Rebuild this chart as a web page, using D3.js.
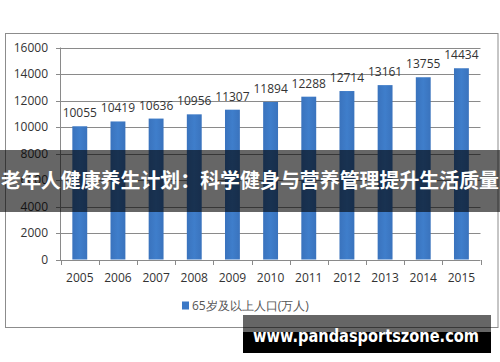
<!DOCTYPE html>
<html>
<head>
<meta charset="utf-8">
<script src="https://d3js.org/d3.v7.min.js"></script>
<style>
  body { margin: 0; background: #fff; }
  svg text { font-family: "Open Sans", "Liberation Sans", sans-serif; fill: #333; }
</style>
</head>
<body>
<script>
var years = ["2005","2006","2007","2008","2009","2010","2011","2012","2013","2014","2015"];
var population = [10055, 10419, 10636, 10956, 11307, 11894, 12288, 12714, 13161, 13755, 14434];
var yTicks = [0, 2000, 4000, 6000, 8000, 10000, 12000, 14000, 16000];
var seriesName = "65岁及以上人口(万人)";
var title = "老年人健康养生计划：科学健身与营养管理提升生活质量";
var site = "www.pandasportszone.com";

var width = 500, height = 362;
var svg = d3.select("body").append("svg")
  .attr("width", width).attr("height", height);

// chart frame
svg.append("rect")
  .attr("x", 5.5).attr("y", 33.5).attr("width", 492.5).attr("height", 294)
  .attr("fill", "#fff").attr("stroke", "#8c8c8c");

var x = d3.scaleBand().domain(years).range([60.7, 480.5]).paddingInner(0.61).paddingOuter(0.305);
var xb = d3.scaleBand().domain(years).range([60.7, 480.5]);
var y = d3.scaleLinear().domain([0, 16000]).range([259.5, 47.5]);

// gridlines
svg.append("g").selectAll("line").data(yTicks).enter().append("line")
  .attr("x1", 56).attr("x2", 480.5)
  .attr("y1", function(d) { return Math.round(y(d)) + 0.5; })
  .attr("y2", function(d) { return Math.round(y(d)) + 0.5; })
  .attr("stroke", "#8a8a8a");

// y axis line
svg.append("line").attr("x1", 60.5).attr("x2", 60.5).attr("y1", 47.5).attr("y2", 260)
  .attr("stroke", "#8a8a8a");

// x tick marks
var bounds = years.map(function(d) { return xb(d); }).concat([480.5]);
svg.append("g").selectAll("line").data(bounds).enter().append("line")
  .attr("x1", function(d) { return Math.round(d) + 0.5; })
  .attr("x2", function(d) { return Math.round(d) + 0.5; })
  .attr("y1", 260).attr("y2", 265)
  .attr("stroke", "#8a8a8a");

// y labels
svg.append("g").selectAll("text").data(yTicks).enter().append("text")
  .attr("x", 48).attr("y", function(d) { return y(d); })
  .attr("dy", "0.35em").attr("text-anchor", "end")
  .attr("font-size", 12)
  .text(function(d) { return d; });

// x labels
svg.append("g").selectAll("text").data(years).enter().append("text")
  .attr("x", function(d) { return xb(d) + xb.bandwidth() / 2; })
  .attr("y", 282).attr("text-anchor", "middle")
  .attr("font-size", 12)
  .text(function(d) { return d; });

// bars
var grad = svg.append("defs").append("linearGradient").attr("id", "bg")
  .attr("x1", 0).attr("x2", 1).attr("y1", 0).attr("y2", 0);
grad.append("stop").attr("offset", "0%").attr("stop-color", "#3a73bd");
grad.append("stop").attr("offset", "50%").attr("stop-color", "#3f7ecb");
grad.append("stop").attr("offset", "100%").attr("stop-color", "#3a73bd");

svg.append("g").selectAll("rect").data(population).enter().append("rect")
  .attr("x", function(d, i) { return x(years[i]); })
  .attr("width", x.bandwidth())
  .attr("y", function(d) { return y(d); })
  .attr("height", function(d) { return y(0) - y(d); })
  .attr("fill", "url(#bg)");

// value labels
svg.append("g").selectAll("text").data(population).enter().append("text")
  .attr("x", function(d, i) { return xb(years[i]) + xb.bandwidth() / 2; })
  .attr("y", function(d) { return y(d) - 9; })
  .attr("text-anchor", "middle")
  .attr("font-size", 12)
  .text(function(d) { return d; });

// legend
svg.append("rect").attr("x", 182).attr("y", 301.5).attr("width", 7).attr("height", 8)
  .attr("fill", "#3b78c6");
svg.append("text").attr("x", 192).attr("y", 305.5).attr("dy", "0.35em")
  .attr("font-size", 12).style("fill", "#555")
  .attr("font-family", "Noto Sans CJK SC")
  .text(seriesName);

// title banner
svg.append("rect").attr("x", 0).attr("y", 150).attr("width", width).attr("height", 62)
  .attr("fill", "#000").attr("opacity", 0.6);
svg.append("text").attr("x", width / 2).attr("y", 181).attr("dy", "0.35em")
  .attr("text-anchor", "middle")
  .attr("font-size", 20).attr("font-weight", "bold")
  .style("font-family", "'Noto Sans CJK SC', sans-serif").style("fill", "#fff")
  .attr("textLength", 498).attr("lengthAdjust", "spacingAndGlyphs")
  .text(title);

// watermark
svg.append("rect").attr("x", 243).attr("y", 315).attr("width", 248).attr("height", 17)
  .attr("fill", "#000").attr("opacity", 0.6);
svg.append("rect").attr("x", 243).attr("y", 332).attr("width", 248).attr("height", 21)
  .attr("fill", "#000");
svg.append("text").attr("x", 253).attr("y", 342)
  .attr("font-size", 18).attr("font-weight", "bold")
  .style("font-family", "'DejaVu Sans', sans-serif").style("fill", "#fff")
  .attr("textLength", 226).attr("lengthAdjust", "spacingAndGlyphs")
  .text(site);
</script>
</body>
</html>
